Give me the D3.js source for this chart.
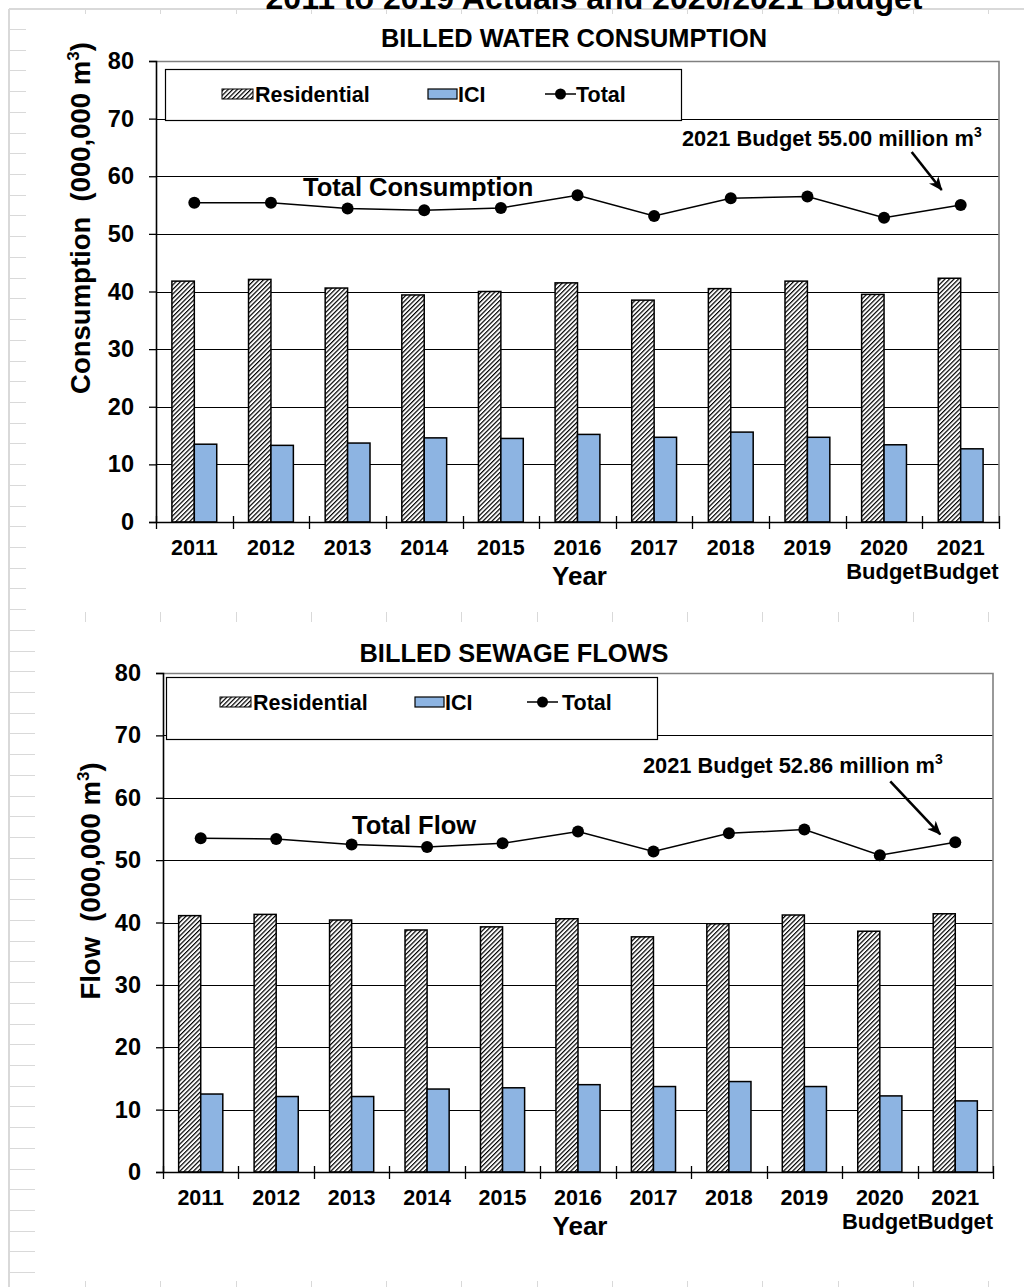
<!DOCTYPE html>
<html>
<head>
<meta charset="utf-8">
<script src="https://cdn.jsdelivr.net/npm/d3@7"></script>
<style>
  html, body { margin: 0; padding: 0; background: #ffffff; }
  svg { display: block; font-family: "Liberation Sans", Arial, Helvetica, sans-serif; font-weight: bold; }
</style>
</head>
<body>
<svg id="chart" width="1024" height="1287"></svg>
<script>
// ---- data -------------------------------------------------------------
const years = ["2011", "2012", "2013", "2014", "2015", "2016", "2017", "2018", "2019", "2020", "2021"];
const yearNotes = ["", "", "", "", "", "", "", "", "", "Budget", "Budget"];
const yTicks = [0, 10, 20, 30, 40, 50, 60, 70, 80];
const barSeries = ["Residential", "ICI"];

// Billed water consumption (million m3)
const waterResidential = [41.8, 42.1, 40.6, 39.4, 40.0, 41.5, 38.5, 40.5, 41.8, 39.5, 42.3];
const waterICI         = [13.5, 13.3, 13.7, 14.6, 14.5, 15.2, 14.7, 15.6, 14.7, 13.4, 12.7];
const waterTotal       = [55.4, 55.4, 54.4, 54.1, 54.5, 56.7, 53.1, 56.2, 56.5, 52.8, 55.00];

// Billed sewage flows (million m3)
const sewageResidential = [41.1, 41.3, 40.4, 38.8, 39.3, 40.6, 37.7, 39.8, 41.2, 38.6, 41.4];
const sewageICI         = [12.5, 12.1, 12.1, 13.3, 13.5, 14.0, 13.7, 14.5, 13.7, 12.2, 11.4];
const sewageTotal       = [53.5, 53.4, 52.5, 52.1, 52.7, 54.6, 51.4, 54.3, 54.9, 50.8, 52.86];

// ---- setup ------------------------------------------------------------
const svg = d3.select("#chart");
const FONT = "'Liberation Sans', Arial, Helvetica, sans-serif";
const ICI_FILL = "#8db4e2";
const SHEET_LINE = "#d9d9d9";

const defs = svg.append("defs");
defs.append("pattern")
  .attr("id", "hatch")
  .attr("patternUnits", "userSpaceOnUse")
  .attr("width", 3.2).attr("height", 3.2)
  .attr("patternTransform", "rotate(45)")
  .call(p => {
    p.append("rect").attr("width", 3.2).attr("height", 3.2).attr("fill", "#fff");
    p.append("line").attr("x1", 0.6).attr("x2", 0.6).attr("y1", 0).attr("y2", 3.2)
      .attr("stroke", "#000").attr("stroke-width", 1.2);
  });
defs.append("marker")
  .attr("id", "arrowHead")
  .attr("viewBox", "0 0 14 12")
  .attr("refX", 13).attr("refY", 6)
  .attr("markerWidth", 14).attr("markerHeight", 12)
  .attr("markerUnits", "userSpaceOnUse")
  .attr("orient", "auto")
  .append("path").attr("d", "M0,0 L14,6 L0,12 L4,6 Z").attr("fill", "#000");

// ---- worksheet grid behind the charts ---------------------------------
const sheet = svg.append("g").attr("class", "sheet");
sheet.append("line").attr("x1", 9).attr("x2", 9).attr("y1", 9).attr("y2", 1287)
  .attr("stroke", SHEET_LINE).attr("stroke-width", 2);
sheet.append("line").attr("x1", 9).attr("x2", 1024).attr("y1", 9).attr("y2", 9)
  .attr("stroke", SHEET_LINE).attr("stroke-width", 2);
const rowLines = d3.range(0, 62).map(k => 29 + k * 20.72).filter(v => v < 1287);
sheet.selectAll("line.row").data(rowLines).join("line").attr("class", "row")
  .attr("x1", 10).attr("x2", d => d < 620 ? 26 : 35)
  .attr("y1", d => Math.round(d) + 0.5).attr("y2", d => Math.round(d) + 0.5)
  .attr("stroke", SHEET_LINE).attr("stroke-width", 1);
const colLines = d3.range(0, 13).map(k => 85 + k * 75.25);
[[9, 14], [612, 622], [1281, 1287]].forEach(([a, b]) => {
  sheet.append("g").selectAll("line").data(colLines).join("line")
    .attr("x1", d => Math.round(d) + 0.5).attr("x2", d => Math.round(d) + 0.5)
    .attr("y1", a).attr("y2", b)
    .attr("stroke", SHEET_LINE).attr("stroke-width", 1);
});

// ---- chart definitions ------------------------------------------------
const charts = [
  {
    title: "BILLED WATER CONSUMPTION", titleX: 574, titleY: 47,
    yLabel: "Consumption  (000,000 m", yLabelX: 90, yLabelY: 218,
    left: 156, right: 999, top: 61, bottom: 522,
    residential: waterResidential, ici: waterICI, total: waterTotal,
    legend: { x: 165, y: 69, w: 516, h: 51, base: 102,
              res: 222, resText: 255, ici: 428, iciText: 458, tot: 545, totText: 576 },
    totalLabel: "Total Consumption", totalLabelX: 303, totalLabelY: 196,
    note: "2021 Budget 55.00 million m", noteX: 682, noteY: 146,
    arrowFrom: [-49, -53], arrowTo: [-19, -15]
  },
  {
    title: "BILLED SEWAGE FLOWS", titleX: 514, titleY: 662,
    yLabel: "Flow  (000,000 m", yLabelX: 100, yLabelY: 881,
    left: 163, right: 993, top: 673, bottom: 1172,
    residential: sewageResidential, ici: sewageICI, total: sewageTotal,
    legend: { x: 166, y: 677, w: 491, h: 62, base: 710,
              res: 220, resText: 253, ici: 415, iciText: 445, tot: 527, totText: 562 },
    totalLabel: "Total Flow", totalLabelX: 352, totalLabelY: 834,
    note: "2021 Budget 52.86 million m", noteX: 643, noteY: 773,
    arrowFrom: [-65, -61], arrowTo: [-15, -8]
  }
];

// ---- top heading (partly above the page edge) -------------------------
svg.append("text")
  .attr("x", 594).attr("y", 9)
  .attr("text-anchor", "middle")
  .attr("font-size", 32)
  .attr("fill", "#000")
  .text("2011 to 2019 Actuals and 2020/2021 Budget");

function drawChart(cfg) {
  const g = svg.append("g");
  const x0 = d3.scaleBand().domain(years).range([cfg.left, cfg.right]).paddingInner(0).paddingOuter(0);
  const groupW = x0.bandwidth() * 0.585;
  const x1 = d3.scaleBand().domain(barSeries).range([-groupW / 2, groupW / 2]);
  const y = d3.scaleLinear().domain([0, 80]).range([cfg.bottom, cfg.top]);
  const cx = d => x0(d) + x0.bandwidth() / 2;

  const rows = years.map((yr, i) => ({
    year: yr, Residential: cfg.residential[i], ICI: cfg.ici[i], Total: cfg.total[i]
  }));

  // title
  g.append("text").attr("x", cfg.titleX).attr("y", cfg.titleY)
    .attr("text-anchor", "middle").attr("font-size", 25.4).attr("fill", "#000")
    .text(cfg.title);

  // horizontal gridlines
  g.append("g").selectAll("line")
    .data(yTicks.filter(t => t > 0 && t < 80)).join("line")
    .attr("x1", cfg.left).attr("x2", cfg.right)
    .attr("y1", d => Math.round(y(d)) + 0.5).attr("y2", d => Math.round(y(d)) + 0.5)
    .attr("stroke", "#000").attr("stroke-width", 1);

  // plot frame (top and right)
  g.append("path")
    .attr("d", `M${cfg.left},${Math.round(y(80)) + 0.5} H${cfg.right} V${cfg.bottom}`)
    .attr("fill", "none").attr("stroke", "#808080").attr("stroke-width", 1.6);

  // bars
  const groups = g.append("g").selectAll("g").data(rows).join("g")
    .attr("transform", d => `translate(${cx(d.year)},0)`);
  groups.selectAll("rect").data(d => barSeries.map(k => ({ key: k, value: d[k] }))).join("rect")
    .attr("x", d => x1(d.key))
    .attr("width", x1.bandwidth())
    .attr("y", d => y(d.value))
    .attr("height", d => y(0) - y(d.value))
    .attr("fill", d => d.key === "Residential" ? "url(#hatch)" : ICI_FILL)
    .attr("stroke", "#000").attr("stroke-width", 1.5);

  // y axis
  const yAxis = g.append("g")
    .attr("transform", `translate(${cfg.left},0)`)
    .call(d3.axisLeft(y).tickValues(yTicks).tickSize(7).tickPadding(15).tickFormat(d3.format("d")));
  yAxis.select(".domain").attr("stroke", "#000").attr("stroke-width", 1.6);
  yAxis.selectAll(".tick line").attr("stroke", "#000").attr("stroke-width", 1.3);
  yAxis.selectAll(".tick text")
    .attr("font-family", FONT).attr("font-weight", "bold").attr("font-size", 23.5).attr("fill", "#000");

  // x axis with category labels
  const xAxis = g.append("g")
    .attr("transform", `translate(0,${cfg.bottom})`)
    .call(d3.axisBottom(x0).tickSize(0).tickPadding(18));
  xAxis.select(".domain").attr("stroke", "#000").attr("stroke-width", 1.6);
  xAxis.selectAll(".tick text")
    .attr("font-family", FONT).attr("font-weight", "bold").attr("font-size", 21.5).attr("fill", "#000");

  // category boundary ticks
  const bounds = years.map(d => x0(d)).concat([cfg.right]);
  g.append("g").selectAll("line").data(bounds).join("line")
    .attr("x1", d => Math.round(d) + 0.5).attr("x2", d => Math.round(d) + 0.5)
    .attr("y1", cfg.bottom - 6).attr("y2", cfg.bottom + 7)
    .attr("stroke", "#000").attr("stroke-width", 1.3);

  // second line under the budget years
  g.append("g").selectAll("text").data(years.filter((d, i) => yearNotes[i])).join("text")
    .attr("x", d => cx(d)).attr("y", cfg.bottom + 57)
    .attr("text-anchor", "middle").attr("font-size", 22).attr("fill", "#000")
    .text(d => yearNotes[years.indexOf(d)]);

  // x axis title
  g.append("text")
    .attr("x", (cfg.left + cfg.right) / 2 + 2).attr("y", cfg.bottom + 63)
    .attr("text-anchor", "middle").attr("font-size", 26).attr("fill", "#000")
    .text("Year");

  // y axis title
  const yt = g.append("text")
    .attr("transform", `translate(${cfg.yLabelX},${cfg.yLabelY}) rotate(-90)`)
    .attr("text-anchor", "middle").attr("font-size", 27.5).attr("fill", "#000")
    .attr("xml:space", "preserve");
  yt.append("tspan").text(cfg.yLabel);
  yt.append("tspan").attr("font-size", 17).attr("dy", -11).text("3");
  yt.append("tspan").attr("dy", 11).text(")");

  // total line
  const line = d3.line().x(d => cx(d.year)).y(d => y(d.Total));
  g.append("path").datum(rows).attr("d", line)
    .attr("fill", "none").attr("stroke", "#000").attr("stroke-width", 1.5);
  g.append("g").selectAll("circle").data(rows).join("circle")
    .attr("cx", d => cx(d.year)).attr("cy", d => y(d.Total)).attr("r", 6).attr("fill", "#000");

  // series label beside the line
  g.append("text").attr("x", cfg.totalLabelX).attr("y", cfg.totalLabelY)
    .attr("font-size", 25.5).attr("fill", "#000").text(cfg.totalLabel);

  // budget note with arrow to the 2021 point
  const last = rows[rows.length - 1];
  const px = cx(last.year), py = y(last.Total);
  const note = g.append("text").attr("x", cfg.noteX).attr("y", cfg.noteY)
    .attr("font-size", 21.8).attr("fill", "#000");
  note.append("tspan").text(cfg.note);
  note.append("tspan").attr("font-size", 14).attr("dy", -9).text("3");
  g.append("line")
    .attr("x1", px + cfg.arrowFrom[0]).attr("y1", py + cfg.arrowFrom[1])
    .attr("x2", px + cfg.arrowTo[0]).attr("y2", py + cfg.arrowTo[1])
    .attr("stroke", "#000").attr("stroke-width", 2.6)
    .attr("marker-end", "url(#arrowHead)");

  // legend
  const L = cfg.legend;
  const lg = g.append("g");
  lg.append("rect").attr("x", L.x + 0.5).attr("y", L.y + 0.5).attr("width", L.w).attr("height", L.h)
    .attr("fill", "#fff").attr("stroke", "#000").attr("stroke-width", 1.2);
  lg.append("rect").attr("x", L.res).attr("y", L.base - 13).attr("width", 31).attr("height", 10)
    .attr("fill", "url(#hatch)").attr("stroke", "#000").attr("stroke-width", 1);
  lg.append("text").attr("x", L.resText).attr("y", L.base).attr("font-size", 21.5).text("Residential");
  lg.append("rect").attr("x", L.ici).attr("y", L.base - 13).attr("width", 29).attr("height", 10)
    .attr("fill", ICI_FILL).attr("stroke", "#000").attr("stroke-width", 1.2);
  lg.append("text").attr("x", L.iciText).attr("y", L.base).attr("font-size", 21.5).text("ICI");
  lg.append("line").attr("x1", L.tot).attr("x2", L.tot + 31).attr("y1", L.base - 8).attr("y2", L.base - 8)
    .attr("stroke", "#000").attr("stroke-width", 1.5);
  lg.append("circle").attr("cx", L.tot + 15.5).attr("cy", L.base - 8).attr("r", 5.5).attr("fill", "#000");
  lg.append("text").attr("x", L.totText).attr("y", L.base).attr("font-size", 21.5).text("Total");
}

charts.forEach(drawChart);
</script>
</body>
</html>
